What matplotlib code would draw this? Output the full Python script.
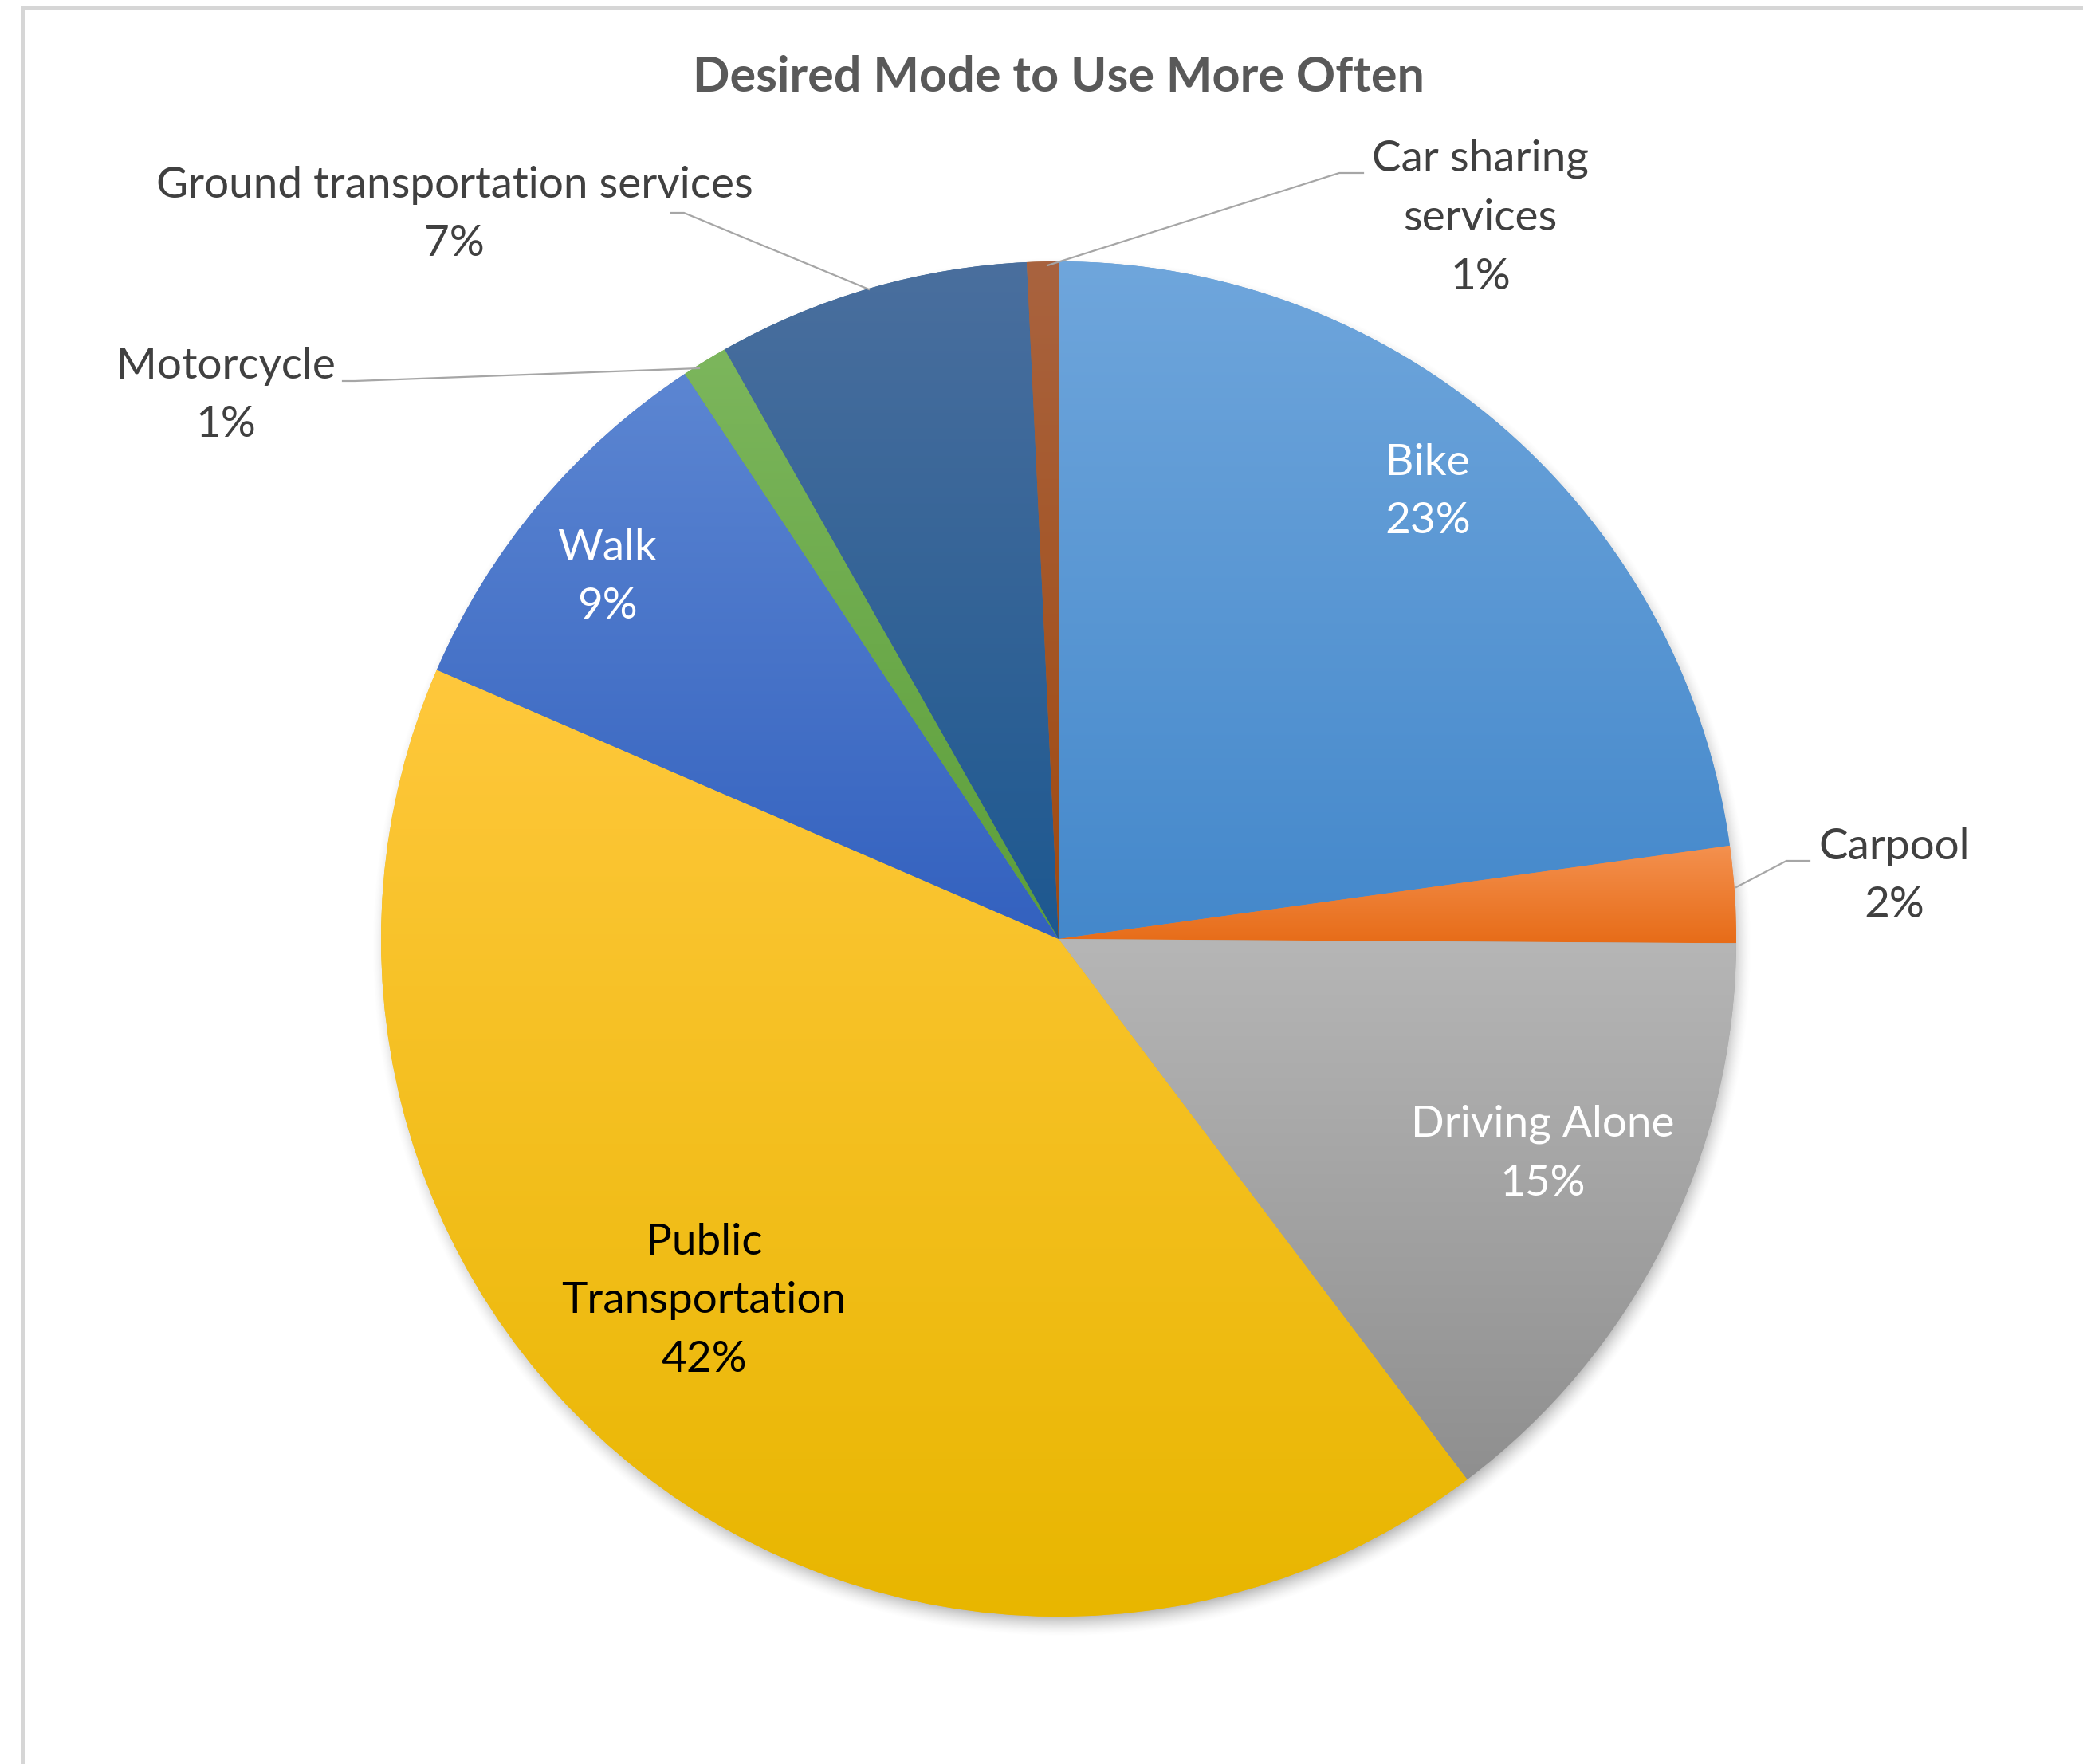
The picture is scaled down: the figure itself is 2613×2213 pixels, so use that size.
import numpy as np
import matplotlib
matplotlib.use("Agg")
import matplotlib.pyplot as plt
from matplotlib.colors import to_rgb
from matplotlib.lines import Line2D

# ---- data -------------------------------------------------------------
categories = [
    "Bike",
    "Carpool",
    "Driving Alone",
    "Public\nTransportation",
    "Walk",
    "Motorcycle",
    "Ground transportation services",
    "Car sharing\nservices",
]
shares = [22.8, 2.3, 14.6, 41.8, 9.2, 1.1, 7.45, 0.75]
title = "Desired Mode to Use More Often"

# ---- styling -----------------------------------------------------------
top_colors = ["#6fa6dc", "#f4914f", "#b6b6b6", "#ffc83c", "#5c86d2",
              "#7cb65c", "#4a6f9e", "#a9633f"]
bottom_colors = ["#4488cb", "#e76c18", "#8f8f8f", "#e8b600", "#3361bf",
                 "#5c9e3a", "#1d5890", "#a04a10"]
label_colors = ["white", "#404040", "white", "black", "white",
                "#404040", "#404040", "#404040"]
# label centres in pixel coordinates (y measured downward)
label_pos = [(1791, 617), (2376, 1099), (1935, 1447), (883, 1632),
             (762, 724), (283, 496), (570, 269), (1857, 273)]
# leader lines for labels placed outside the pie
leaders = {
    1: [(2178, 1113), (2241, 1080), (2270, 1080)],
    5: [(877, 462), (445, 478), (430, 478)],
    6: [(1090, 363), (858, 267), (842, 267)],
    7: [(1314, 333), (1680, 217), (1710, 217)],
}

W, H, DPI = 2613, 2213, 100
CX, CY, R = 1328, 1178, 850

plt.rcParams["font.family"] = ["Lato", "DejaVu Sans"]

fig = plt.figure(figsize=(W / DPI, H / DPI), dpi=DPI)
fig.patch.set_facecolor("white")
ax = fig.add_axes([0, 0, 1, 1])


def Y(y):
    return H - y


wedges, _ = ax.pie(
    shares, startangle=90, counterclock=False,
    center=(CX, Y(CY)), radius=R,
    colors=[tuple((np.array(to_rgb(a)) + np.array(to_rgb(b))) / 2)
            for a, b in zip(top_colors, bottom_colors)],
    wedgeprops=dict(linewidth=0, zorder=2),
)

# soft drop shadow beneath the pie
pad = 70
xs = np.arange(CX - R - pad, CX + R + pad, 1.0)
ys = np.arange(Y(CY) - R - pad, Y(CY) + R + pad, 1.0)
XX, YY = np.meshgrid(xs, ys)
dist = np.hypot(XX - (CX + 4), YY - (Y(CY) - 10))
alpha = np.clip((R + 16 - dist) / 32.0, 0, 1) ** 1.6 * 0.55
shadow = np.zeros(XX.shape + (4,))
shadow[..., :3] = 0.32
shadow[..., 3] = alpha
ax.imshow(shadow, extent=(xs[0], xs[-1], ys[0], ys[-1]), origin="lower",
          zorder=1, interpolation="bilinear")

# vertical gradient fill for each slice
t = np.linspace(0, 1, 256)[:, None]
for w, ct, cb in zip(wedges, top_colors, bottom_colors):
    v = w.get_path().vertices
    x0, y0 = v.min(axis=0)
    x1, y1 = v.max(axis=0)
    top = np.array(to_rgb(ct))
    bot = np.array(to_rgb(cb))
    grad = bot + (top - bot) * t
    im = ax.imshow(grad[:, None, :], extent=(x0, x1, y0, y1), origin="lower",
                   aspect="auto", zorder=3, interpolation="bilinear")
    im.set_clip_path(w)

# data labels
total = sum(shares)
for i, (cat, val) in enumerate(zip(categories, shares)):
    pct = int(round(val / total * 100))
    x, y = label_pos[i]
    ax.text(x, Y(y), f"{cat}\n{pct}%", ha="center", va="center",
            fontsize=39.5, color=label_colors[i], linespacing=1.62,
            zorder=5)

for i, pts in leaders.items():
    ax.add_line(Line2D([p[0] for p in pts], [Y(p[1]) for p in pts],
                       color="#a6a6a6", lw=1.6, zorder=4))

ax.text(CX, Y(97), title, ha="center", va="center", fontsize=44,
        fontweight="bold", color="#595959", zorder=5)

# chart area border (top and left edges visible)
ax.add_line(Line2D([28, W], [Y(10), Y(10)], color="#d6d6d6", lw=3.6,
                   zorder=0))
ax.add_line(Line2D([28, 28], [Y(10), 0], color="#d6d6d6", lw=3.6,
                   zorder=0))

ax.set_xlim(0, W)
ax.set_ylim(0, H)
ax.set_aspect("auto")
ax.axis("off")

fig.savefig("out.png", dpi=DPI, facecolor="white")
